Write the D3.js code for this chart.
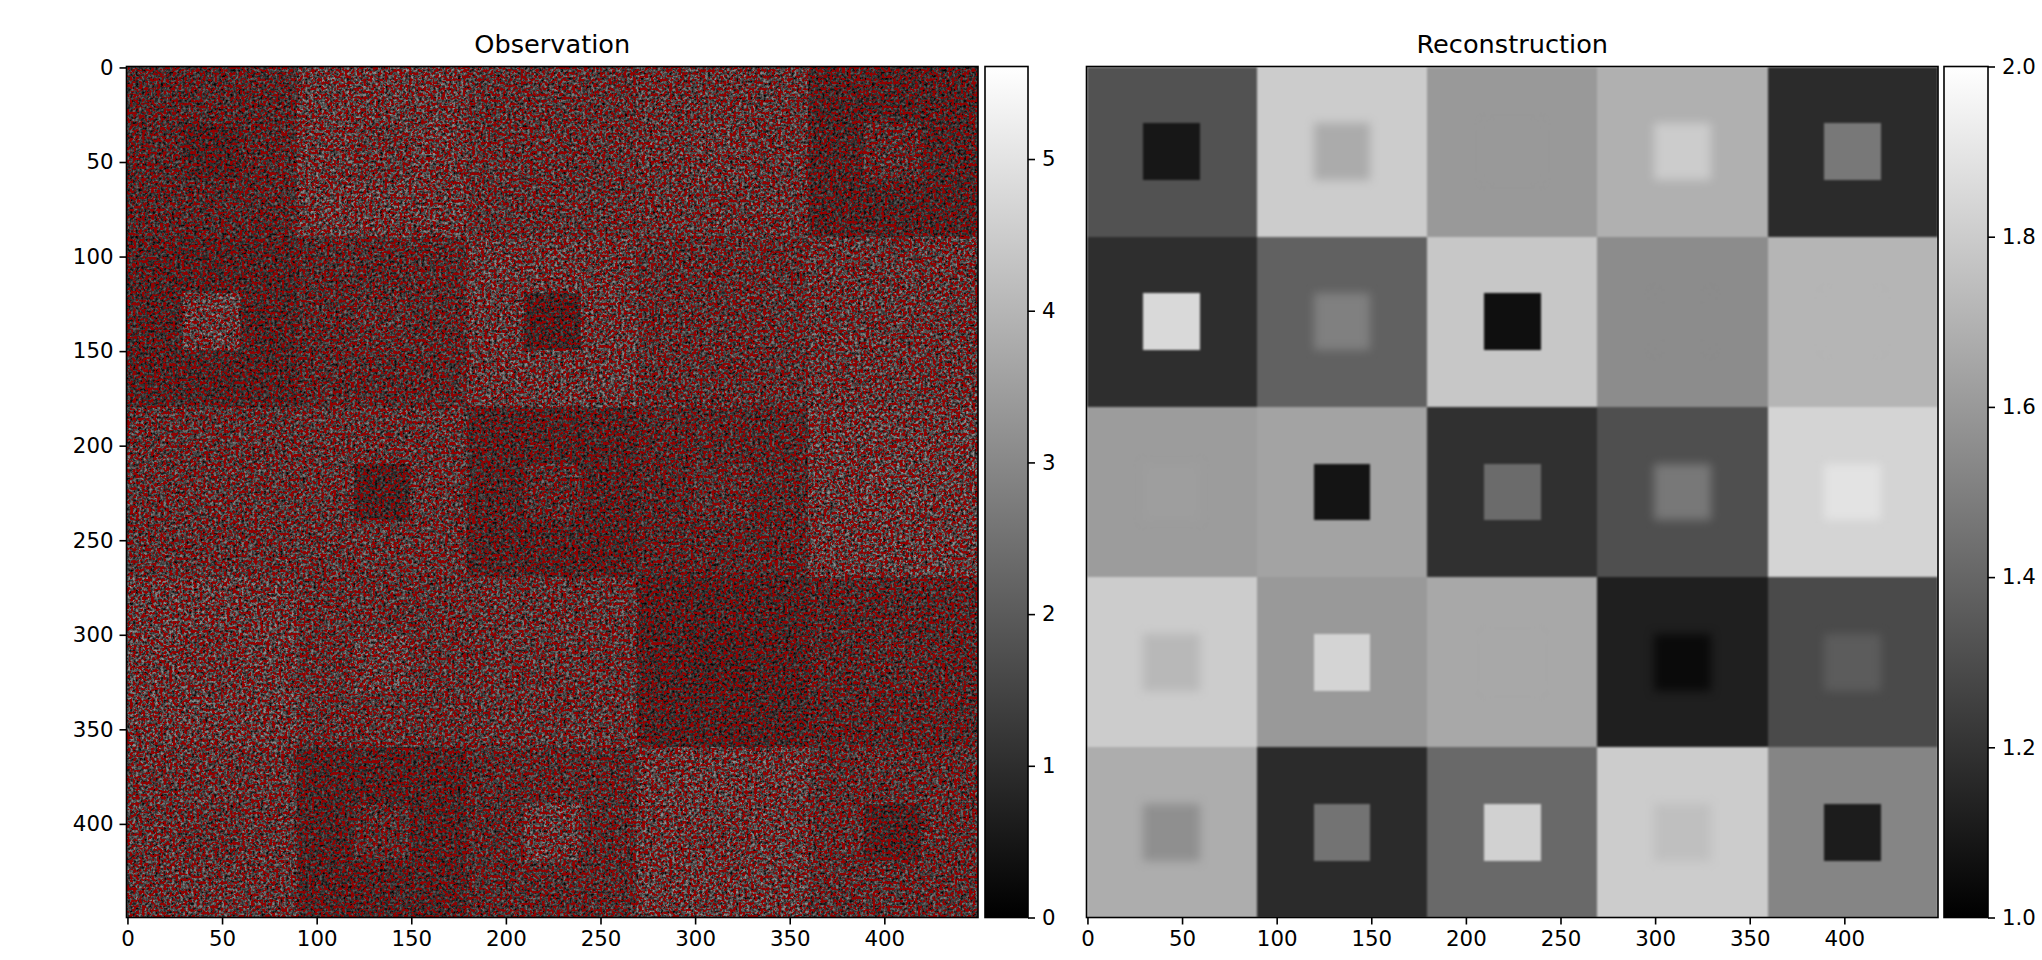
<!DOCTYPE html>
<html>
<head>
<meta charset="utf-8">
<script src="https://cdnjs.cloudflare.com/ajax/libs/d3/7.8.5/d3.min.js"></script>
<style>
  html, body { margin: 0; background: #fff; }
  svg { display: block; }
  text { font-family: "DejaVu Sans", sans-serif; fill: #000; }
</style>
</head>
<body>
<svg id="chart" width="2042" height="960"></svg>
<script>
// block values (colour scale 1 to 2)
const blockOuter = [
    [1.32, 1.80, 1.60, 1.69, 1.17],
    [1.18, 1.38, 1.78, 1.55, 1.71],
    [1.61, 1.64, 1.19, 1.31, 1.83],
    [1.80, 1.60, 1.66, 1.12, 1.29],
    [1.68, 1.17, 1.41, 1.80, 1.52]
];
// inner square of each block (data 30..60 inside each 90 wide block)
const blockInner = [
    [1.09, 1.67, 1.60, 1.80, 1.47],
    [1.85, 1.50, 1.06, 1.55, 1.71],
    [1.62, 1.08, 1.42, 1.47, 1.89],
    [1.72, 1.83, 1.66, 1.04, 1.36],
    [1.56, 1.45, 1.82, 1.75, 1.11]
];
const blockSize = 90;
const innerStart = 30;
const innerSize = 30;
const imageTicks = [0, 50, 100, 150, 200, 250, 300, 350, 400];
const obsBarTicks = [0, 1, 2, 3, 4, 5];
const recBarTicks = [1.0, 1.2, 1.4, 1.6, 1.8, 2.0];
const obsRange = [0, 5.61];
const recRange = [1, 2];

const svg = d3.select("#chart");
const defs = svg.append("defs");
const top_ = 66.5, bottom = 917.5;
const tickFont = 21.3, titleFont = 25.6;

const x0 = d3.scaleLinear().domain([-0.5, 449.5]).range([126.5, 978]);
const x1 = d3.scaleLinear().domain([-0.5, 449.5]).range([1086.5, 1938]);
const y = d3.scaleLinear().domain([-0.5, 449.5]).range([top_, bottom]);

const grey = d3.scaleLinear().range(["#000", "#fff"]);
const obsGrey = grey.copy().domain(obsRange);
const recGrey = grey.copy().domain(recRange);

// flatten the two block tables into cells
const cells = [];
blockOuter.forEach((row, r) => row.forEach((v, c) => {
    cells.push({ x: c * blockSize, y: r * blockSize, size: blockSize, value: v, faint: false });
}));
blockInner.forEach((row, r) => row.forEach((v, c) => {
    cells.push({
        x: c * blockSize + innerStart, y: r * blockSize + innerStart, size: innerSize, value: v,
        // squares close to their block come out blurry in the reconstruction
        faint: Math.abs(v - blockOuter[r][c]) < 0.17
    });
}));

function clip(id, x) {
    defs.append("clipPath").attr("id", id).append("rect")
        .attr("x", x.range()[0]).attr("y", top_)
        .attr("width", x.range()[1] - x.range()[0]).attr("height", bottom - top_);
}
clip("clip-obs", x0);
clip("clip-rec", x1);

// Sensor grain and the red missing-pixel speckle are a visual texture from SVG
// feTurbulence. They are not read from the picture and carry no chart values.
const region = sel => sel.attr("filterUnits", "userSpaceOnUse")
    .attr("x", x0.range()[0]).attr("y", top_)
    .attr("width", x0.range()[1] - x0.range()[0]).attr("height", bottom - top_)
    .attr("color-interpolation-filters", "sRGB");

const grain = region(defs.append("filter").attr("id", "grain"));
grain.append("feTurbulence").attr("type", "fractalNoise").attr("baseFrequency", 0.36)
    .attr("numOctaves", 2).attr("seed", 4).attr("result", "n");
grain.append("feColorMatrix").attr("in", "n").attr("type", "matrix")
    .attr("values", "1.7 0 0 0 -0.3  1.7 0 0 0 -0.3  1.7 0 0 0 -0.3  0 0 0 0 1").attr("result", "g");
grain.append("feComposite").attr("in", "SourceGraphic").attr("in2", "g")
    .attr("operator", "arithmetic").attr("k1", 1.75).attr("k2", 0).attr("k3", 0).attr("k4", 0);

const speckle = region(defs.append("filter").attr("id", "speckle"));
speckle.append("feTurbulence").attr("type", "fractalNoise").attr("baseFrequency", 0.33)
    .attr("numOctaves", 2).attr("seed", 11).attr("result", "n");
speckle.append("feColorMatrix").attr("in", "n").attr("type", "matrix")
    .attr("values", "0 0 0 0 0.58  0 0 0 0 0  0 0 0 0 0  12 0 0 0 -6.1");

const soften = defs.append("filter").attr("id", "soften")
    .attr("filterUnits", "userSpaceOnUse")
    .attr("x", x1.range()[0] - 10).attr("y", top_ - 10)
    .attr("width", x1.range()[1] - x1.range()[0] + 20).attr("height", bottom - top_ + 20)
    .attr("color-interpolation-filters", "sRGB");
soften.append("feGaussianBlur").attr("stdDeviation", 1.3);

const blurry = defs.append("filter").attr("id", "blurry")
    .attr("x", "-50%").attr("y", "-50%").attr("width", "200%").attr("height", "200%")
    .attr("color-interpolation-filters", "sRGB");
blurry.append("feGaussianBlur").attr("stdDeviation", 5);

function drawBlocks(parent, x, colour) {
    return parent.selectAll("rect").data(cells).enter().append("rect")
        .attr("x", d => x(d.x - 0.5))
        .attr("y", d => y(d.y - 0.5))
        .attr("width", d => x(d.x + d.size) - x(d.x))
        .attr("height", d => y(d.y + d.size) - y(d.y))
        .attr("fill", d => colour(d.value))
        .attr("shape-rendering", "crispEdges");
}

function drawAxes(x, withLeft) {
    const frame = svg.append("g");
    frame.append("g").attr("transform", `translate(0,${bottom})`)
        .call(d3.axisBottom(x).tickValues(imageTicks).tickSize(7).tickPadding(6).tickFormat(d3.format("d")));
    if (withLeft) {
        frame.append("g").attr("transform", `translate(${x.range()[0]},0)`)
            .call(d3.axisLeft(y).tickValues(imageTicks).tickSize(7).tickPadding(6).tickFormat(d3.format("d")));
    }
    frame.selectAll(".domain").remove();
    frame.selectAll("line").attr("stroke", "#000").attr("stroke-width", 1.6);
    frame.selectAll("text").attr("font-size", tickFont).attr("font-family", "DejaVu Sans");
    frame.append("rect")
        .attr("x", x.range()[0]).attr("y", top_)
        .attr("width", x.range()[1] - x.range()[0]).attr("height", bottom - top_)
        .attr("fill", "none").attr("stroke", "#000").attr("stroke-width", 1.6);
}

function drawColorbar(id, left, right, colour, domain, ticks, fmt) {
    const scale = d3.scaleLinear().domain(domain).range([bottom, top_]);
    const grad = defs.append("linearGradient").attr("id", id)
        .attr("x1", 0).attr("x2", 0).attr("y1", 1).attr("y2", 0);
    grad.selectAll("stop").data(domain).enter().append("stop")
        .attr("offset", (d, i) => i)
        .attr("stop-color", d => colour(d));
    svg.append("rect")
        .attr("x", left).attr("y", top_)
        .attr("width", right - left).attr("height", bottom - top_)
        .attr("fill", `url(#${id})`)
        .attr("stroke", "#000").attr("stroke-width", 1.6);
    const axis = svg.append("g").attr("transform", `translate(${right},0)`)
        .call(d3.axisRight(scale).tickValues(ticks).tickSize(7).tickPadding(7).tickFormat(fmt));
    axis.select(".domain").remove();
    axis.selectAll("line").attr("stroke", "#000").attr("stroke-width", 1.6);
    axis.selectAll("text").attr("font-size", tickFont).attr("font-family", "DejaVu Sans");
}

function title(x, label) {
    svg.append("text")
        .attr("x", (x.range()[0] + x.range()[1]) / 2).attr("y", 53)
        .attr("text-anchor", "middle").attr("font-size", titleFont)
        .text(label);
}

// ----- Observation -----
const obs = svg.append("g").attr("clip-path", "url(#clip-obs)");
drawBlocks(obs.append("g").attr("filter", "url(#grain)"), x0, obsGrey);
obs.append("rect")
    .attr("x", x0.range()[0]).attr("y", top_)
    .attr("width", x0.range()[1] - x0.range()[0]).attr("height", bottom - top_)
    .attr("fill", "#000").attr("filter", "url(#speckle)");
drawAxes(x0, true);
drawColorbar("bar-obs", 985, 1028, obsGrey, obsRange, obsBarTicks, d3.format("d"));
title(x0, "Observation");

// ----- Reconstruction -----
const rec = svg.append("g").attr("clip-path", "url(#clip-rec)");
drawBlocks(rec.append("g").attr("filter", "url(#soften)"), x1, recGrey)
    .filter(d => d.faint)
    .attr("filter", "url(#blurry)");
drawAxes(x1, false);
drawColorbar("bar-rec", 1944, 1988, recGrey, recRange, recBarTicks, d3.format(".1f"));
title(x1, "Reconstruction");
</script>
</body>
</html>
